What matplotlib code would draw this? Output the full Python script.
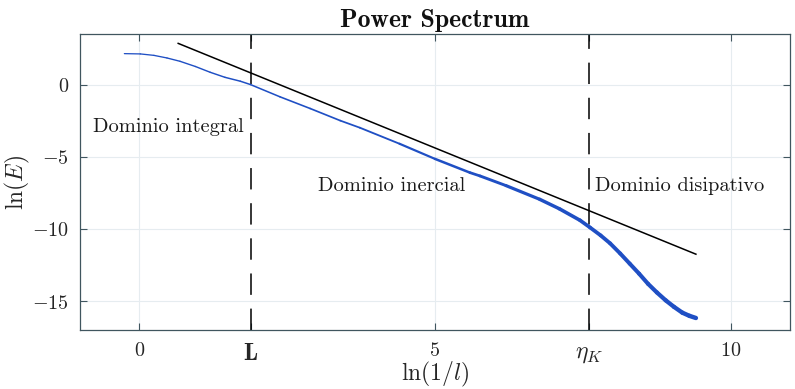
import matplotlib
matplotlib.use("Agg")
import matplotlib.pyplot as plt
import numpy as np
from matplotlib.collections import LineCollection

plt.rcParams['mathtext.fontset'] = 'cm'
plt.rcParams['axes.unicode_minus'] = False

# Spectrum: ln(1/l) vs ln(E)
spec_x = [-0.25, 0.02, 0.25, 0.47, 0.69, 0.95, 1.20, 1.45, 1.71, 1.88, 2.38,
          2.89, 3.40, 3.73, 4.40, 5.00, 5.59, 5.76, 6.20, 6.77, 7.10, 7.45,
          7.62, 7.80, 7.96, 8.13, 8.29, 8.45, 8.60, 8.75, 8.90, 9.04, 9.18,
          9.30, 9.41]
spec_y = [2.14, 2.12, 2.02, 1.84, 1.61, 1.25, 0.85, 0.50, 0.23, 0.00, -0.85,
          -1.66, -2.50, -2.99, -4.10, -5.15, -6.10, -6.33, -7.00, -7.95, -8.60,
          -9.40, -9.90, -10.45, -11.00, -11.70, -12.40, -13.10, -13.80, -14.40,
          -14.95, -15.40, -15.80, -16.02, -16.17]

# Kolmogorov -5/3 reference line endpoints
kol_x = [0.66, 9.41]
kol_y = [2.85, -11.75]

# Scale markers
L_pos = 1.89
etaK_pos = 7.60

x_ticks = [0, L_pos, 5, etaK_pos, 10]
x_ticklabels = [r'$0$', r'$\mathbf{L}$', r'$5$', r'$\eta_K$', r'$10$']
y_ticks = [0, -5, -10, -15]
y_ticklabels = [r'$0$', r'$-5$', r'$-10$', r'$-15$']

regions = ["Dominio integral", "Dominio inercial", "Dominio disipativo"]
region_x = [-0.78, 3.02, 7.70]
region_y = [-2.97, -7.05, -7.05]

fig = plt.figure(figsize=(7.95, 3.89), dpi=100)
ax = fig.add_axes([0.1006, 0.1517, 0.8931, 0.7609])

ax.set_xlim(-1, 11)
ax.set_ylim(-17, 3.5)

grid_c = '#e6ecf0'
for v in [0, 5, 10]:
    ax.axvline(v, color=grid_c, lw=0.8, zorder=0)
for v in y_ticks:
    ax.axhline(v, color=grid_c, lw=0.8, zorder=0)

# spectrum with growing thickness
pts = np.column_stack([spec_x, spec_y])
segs = np.stack([pts[:-1], pts[1:]], axis=1)
xs = np.array(spec_x)
mid = (xs[:-1] + xs[1:]) / 2
widths = np.interp(mid, [-0.3, 4.0, 7.0, 9.4], [0.9, 1.3, 2.5, 3.2])
lc = LineCollection(segs, linewidths=widths, colors='#1f4fc4', capstyle='round',
                    joinstyle='round', zorder=3)
ax.add_collection(lc)

ax.plot(kol_x, kol_y, color='black', lw=1.1, zorder=4)

for p in [L_pos, etaK_pos]:
    ax.axvline(p, color='black', lw=1.1, linestyle=(0, (14, 9)), zorder=2)

for t, x, y in zip(regions, region_x, region_y):
    ax.text(x, y, t, fontfamily='cmr10', fontsize=14.7, color='#1a1a1a',
            va='center', ha='left', zorder=5)

ax.set_xticks(x_ticks)
ax.set_xticklabels(x_ticklabels)
ax.set_yticks(y_ticks)
ax.set_yticklabels(y_ticklabels)
ax.tick_params(direction='in', length=5, width=0.8, top=True, right=True,
               labelsize=14.5, colors='#40565f', labelcolor='#262626', pad=8)
xl = ax.get_xticklabels()
xl[1].set_fontsize(17)
xl[3].set_fontsize(17)
for s in ax.spines.values():
    s.set_color('#40565f')
    s.set_linewidth(0.9)

ax.set_xlabel(r'$\ln(1/l)$', fontsize=17, labelpad=-4, color='#262626')
ax.set_ylabel(r'$\ln(E)$', fontsize=17, labelpad=0, color='#262626')
ax.set_title('Power Spectrum', fontfamily='cmb10', fontsize=18.5, pad=5, color='#111111')

fig.savefig('out.png', dpi=100)
